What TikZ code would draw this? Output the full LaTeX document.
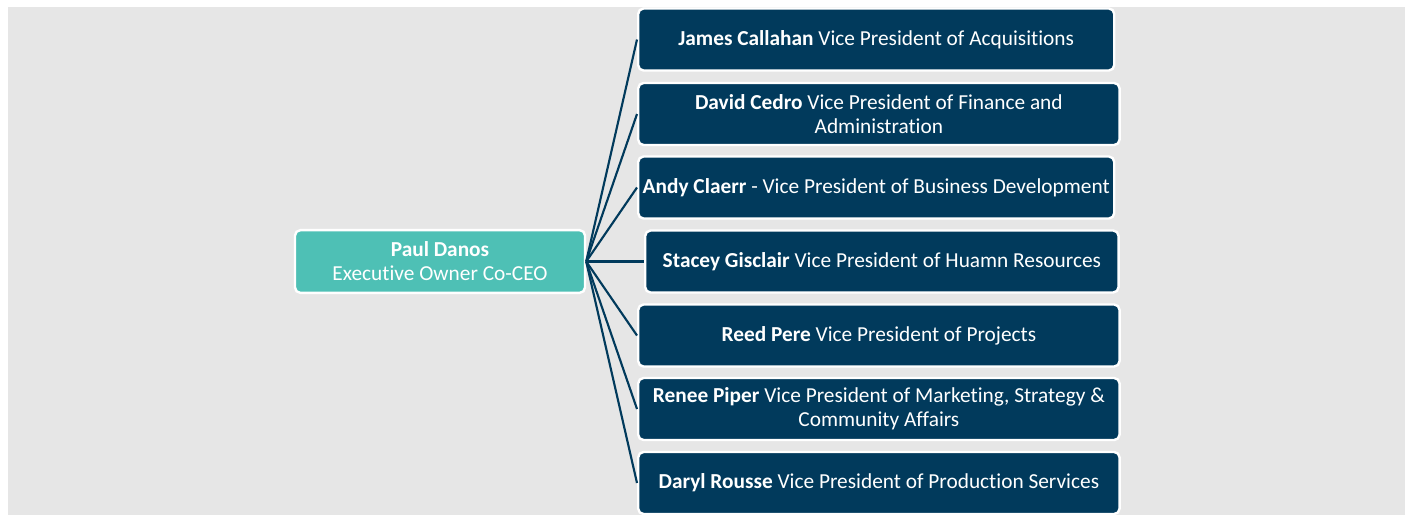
\documentclass[tikz,border=0pt]{standalone}
\usepackage{fontspec}
\setmainfont{Carlito}[Ligatures=NoCommon]
\usetikzlibrary{positioning}

\definecolor{navy}{RGB}{1,58,92}
\definecolor{teal}{RGB}{78,192,181}
\definecolor{canvas}{RGB}{230,230,230}

\begin{document}
\begin{tikzpicture}[x=0.75pt, y=-0.75pt,
		card/.style={draw=white, line width=1.8pt, rounded corners=4pt, align=center,
			font=\fontsize{16}{18}\selectfont, text=white, inner sep=0pt, minimum height=46.5pt},
		lead/.style={card, fill=teal, minimum width=217.5pt, minimum height=47pt},
		vp/.style={card, fill=navy, anchor=west, minimum width=361pt},
		link/.style={draw=navy, line width=1.6pt}
	]
		\useasboundingbox (0,0) rectangle (1408,515);
		\fill[canvas] (8,7) rectangle (1405,515);

		\node[lead] (danos) at (440,261.5) {\textbf{Paul Danos}\\Executive Owner Co-CEO};

		\node[vp, minimum width=357pt] (callahan) at (637,39.5) {\textbf{James Callahan} Vice President of Acquisitions};
		\node[vp] (cedro) at (637,114) {\textbf{David Cedro} Vice President of Finance and\\Administration};
		\node[vp, minimum width=357pt] (claerr) at (637,187.5) {\textbf{Andy Claerr} - Vice President of Business Development};
		\node[vp, minimum width=355pt] (gisclair) at (644,261.5) {\textbf{Stacey Gisclair} Vice President of Huamn Resources};
		\node[vp] (pere) at (637,335.5) {\textbf{Reed Pere} Vice President of Projects};
		\node[vp] (piper) at (637,409) {\textbf{Renee Piper} Vice President of Marketing, Strategy \&\\Community Affairs};
		\node[vp] (rousse) at (637,483) {\textbf{Daryl Rousse} Vice President of Production Services};

		\draw[link] (danos.east) -- (callahan.west);
		\draw[link] (danos.east) -- (cedro.west);
		\draw[link] (danos.east) -- (claerr.west);
		\draw[link] (danos.east) -- (gisclair.west);
		\draw[link] (danos.east) -- (pere.west);
		\draw[link] (danos.east) -- (piper.west);
		\draw[link] (danos.east) -- (rousse.west);
	\end{tikzpicture}
\end{document}
